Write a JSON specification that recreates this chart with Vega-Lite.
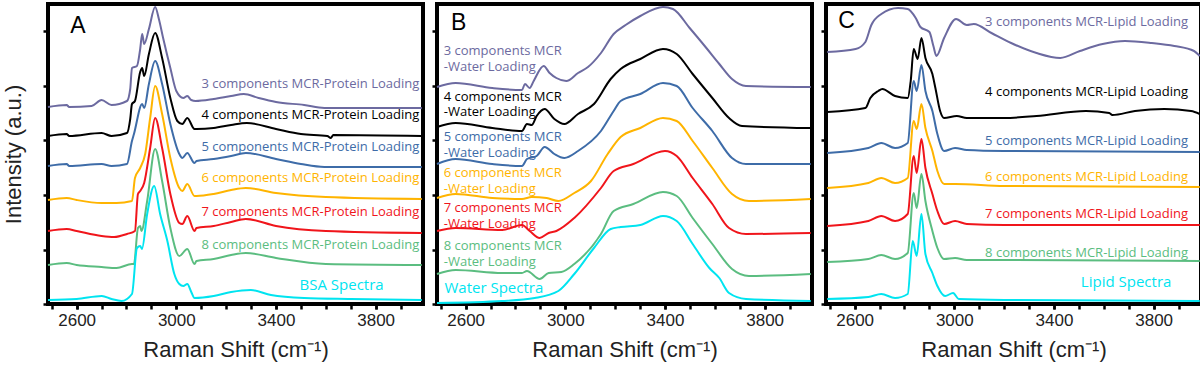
{
  "$schema": "https://vega.github.io/schema/vega-lite/v6.json",
  "background": "white",
  "padding": {"left": 0, "top": 1, "right": 0, "bottom": 0},
  "spacing": 0,
  "config": {
    "view": {"stroke": "black", "strokeWidth": 4},
    "axis": {"domain": false, "grid": false, "tickColor": "black", "tickWidth": 2.5, "tickSize": 5, "labelFont": "Liberation Sans", "labelFontSize": 17, "labelColor": "#222222", "titleFont": "Liberation Sans", "titleFontSize": 22, "titleFontWeight": "normal", "titleColor": "#222222"}
  },
  "datasets": {
    "curves": [
      {"panel":"A","series":"3","x":2485,"y":197},{"panel":"A","series":"3","x":2560,"y":199},{"panel":"A","series":"3","x":2570,"y":197},{"panel":"A","series":"3","x":2660,"y":198},{"panel":"A","series":"3","x":2700,"y":204},{"panel":"A","series":"3","x":2740,"y":199},{"panel":"A","series":"3","x":2802,"y":203},{"panel":"A","series":"3","x":2815,"y":215},{"panel":"A","series":"3","x":2822,"y":236},{"panel":"A","series":"3","x":2842,"y":238},{"panel":"A","series":"3","x":2855,"y":255},{"panel":"A","series":"3","x":2863,"y":270},{"panel":"A","series":"3","x":2871,"y":260},{"panel":"A","series":"3","x":2890,"y":275},{"panel":"A","series":"3","x":2915,"y":297},{"panel":"A","series":"3","x":2930,"y":285},{"panel":"A","series":"3","x":2947,"y":266},{"panel":"A","series":"3","x":2976,"y":236},{"panel":"A","series":"3","x":3000,"y":213},{"panel":"A","series":"3","x":3028,"y":206},{"panel":"A","series":"3","x":3044,"y":208},{"panel":"A","series":"3","x":3060,"y":204},{"panel":"A","series":"3","x":3077,"y":203},{"panel":"A","series":"3","x":3150,"y":205},{"panel":"A","series":"3","x":3220,"y":208},{"panel":"A","series":"3","x":3271,"y":210},{"panel":"A","series":"3","x":3330,"y":206},{"panel":"A","series":"3","x":3400,"y":202},{"panel":"A","series":"3","x":3513,"y":199},{"panel":"A","series":"3","x":3594,"y":196},{"panel":"A","series":"3","x":3700,"y":196},{"panel":"A","series":"3","x":3985,"y":196},
      {"panel":"A","series":"4","x":2485,"y":168},{"panel":"A","series":"4","x":2560,"y":170},{"panel":"A","series":"4","x":2570,"y":168},{"panel":"A","series":"4","x":2700,"y":171},{"panel":"A","series":"4","x":2740,"y":168},{"panel":"A","series":"4","x":2802,"y":171},{"panel":"A","series":"4","x":2815,"y":185},{"panel":"A","series":"4","x":2822,"y":200},{"panel":"A","series":"4","x":2834,"y":203},{"panel":"A","series":"4","x":2855,"y":232},{"panel":"A","series":"4","x":2863,"y":236},{"panel":"A","series":"4","x":2871,"y":228},{"panel":"A","series":"4","x":2890,"y":250},{"panel":"A","series":"4","x":2915,"y":271},{"panel":"A","series":"4","x":2943,"y":246},{"panel":"A","series":"4","x":2976,"y":206},{"panel":"A","series":"4","x":3004,"y":183},{"panel":"A","series":"4","x":3024,"y":180},{"panel":"A","series":"4","x":3044,"y":186},{"panel":"A","series":"4","x":3073,"y":175},{"panel":"A","series":"4","x":3081,"y":175},{"panel":"A","series":"4","x":3150,"y":176},{"panel":"A","series":"4","x":3220,"y":179},{"panel":"A","series":"4","x":3283,"y":181},{"panel":"A","series":"4","x":3400,"y":175},{"panel":"A","series":"4","x":3500,"y":170},{"panel":"A","series":"4","x":3606,"y":168},{"panel":"A","series":"4","x":3620,"y":166},{"panel":"A","series":"4","x":3630,"y":169},{"panel":"A","series":"4","x":3985,"y":168},
      {"panel":"A","series":"5","x":2485,"y":138},{"panel":"A","series":"5","x":2560,"y":140},{"panel":"A","series":"5","x":2570,"y":138},{"panel":"A","series":"5","x":2700,"y":140},{"panel":"A","series":"5","x":2740,"y":138},{"panel":"A","series":"5","x":2802,"y":140},{"panel":"A","series":"5","x":2822,"y":163},{"panel":"A","series":"5","x":2830,"y":170},{"panel":"A","series":"5","x":2863,"y":200},{"panel":"A","series":"5","x":2871,"y":196},{"panel":"A","series":"5","x":2890,"y":220},{"panel":"A","series":"5","x":2915,"y":243},{"panel":"A","series":"5","x":2943,"y":220},{"panel":"A","series":"5","x":2976,"y":180},{"panel":"A","series":"5","x":3012,"y":150},{"panel":"A","series":"5","x":3024,"y":146},{"panel":"A","series":"5","x":3044,"y":151},{"panel":"A","series":"5","x":3073,"y":141},{"panel":"A","series":"5","x":3081,"y":143},{"panel":"A","series":"5","x":3150,"y":145},{"panel":"A","series":"5","x":3220,"y":148},{"panel":"A","series":"5","x":3279,"y":151},{"panel":"A","series":"5","x":3400,"y":145},{"panel":"A","series":"5","x":3500,"y":140},{"panel":"A","series":"5","x":3594,"y":137},{"panel":"A","series":"5","x":3985,"y":137},
      {"panel":"A","series":"6","x":2485,"y":104},{"panel":"A","series":"6","x":2560,"y":106},{"panel":"A","series":"6","x":2600,"y":104},{"panel":"A","series":"6","x":2700,"y":101},{"panel":"A","series":"6","x":2760,"y":101},{"panel":"A","series":"6","x":2822,"y":103},{"panel":"A","series":"6","x":2834,"y":126},{"panel":"A","series":"6","x":2855,"y":136},{"panel":"A","series":"6","x":2875,"y":150},{"panel":"A","series":"6","x":2895,"y":186},{"panel":"A","series":"6","x":2915,"y":218},{"panel":"A","series":"6","x":2943,"y":190},{"panel":"A","series":"6","x":2976,"y":146},{"panel":"A","series":"6","x":3012,"y":116},{"panel":"A","series":"6","x":3024,"y":113},{"panel":"A","series":"6","x":3044,"y":120},{"panel":"A","series":"6","x":3073,"y":108},{"panel":"A","series":"6","x":3081,"y":108},{"panel":"A","series":"6","x":3150,"y":110},{"panel":"A","series":"6","x":3220,"y":114},{"panel":"A","series":"6","x":3279,"y":116},{"panel":"A","series":"6","x":3400,"y":111},{"panel":"A","series":"6","x":3600,"y":107},{"panel":"A","series":"6","x":3985,"y":105},
      {"panel":"A","series":"7","x":2485,"y":73},{"panel":"A","series":"7","x":2560,"y":75},{"panel":"A","series":"7","x":2600,"y":73},{"panel":"A","series":"7","x":2700,"y":68},{"panel":"A","series":"7","x":2750,"y":67},{"panel":"A","series":"7","x":2802,"y":70},{"panel":"A","series":"7","x":2834,"y":73},{"panel":"A","series":"7","x":2846,"y":110},{"panel":"A","series":"7","x":2855,"y":113},{"panel":"A","series":"7","x":2871,"y":121},{"panel":"A","series":"7","x":2895,"y":156},{"panel":"A","series":"7","x":2915,"y":186},{"panel":"A","series":"7","x":2943,"y":156},{"panel":"A","series":"7","x":2976,"y":110},{"panel":"A","series":"7","x":3012,"y":81},{"panel":"A","series":"7","x":3024,"y":80},{"panel":"A","series":"7","x":3044,"y":88},{"panel":"A","series":"7","x":3073,"y":73},{"panel":"A","series":"7","x":3081,"y":76},{"panel":"A","series":"7","x":3150,"y":78},{"panel":"A","series":"7","x":3220,"y":82},{"panel":"A","series":"7","x":3279,"y":85},{"panel":"A","series":"7","x":3400,"y":78},{"panel":"A","series":"7","x":3600,"y":73},{"panel":"A","series":"7","x":3985,"y":71},
      {"panel":"A","series":"8","x":2485,"y":39},{"panel":"A","series":"8","x":2560,"y":41},{"panel":"A","series":"8","x":2600,"y":39},{"panel":"A","series":"8","x":2700,"y":37},{"panel":"A","series":"8","x":2760,"y":36},{"panel":"A","series":"8","x":2822,"y":40},{"panel":"A","series":"8","x":2830,"y":40},{"panel":"A","series":"8","x":2846,"y":76},{"panel":"A","series":"8","x":2855,"y":78},{"panel":"A","series":"8","x":2860,"y":73},{"panel":"A","series":"8","x":2883,"y":103},{"panel":"A","series":"8","x":2915,"y":155},{"panel":"A","series":"8","x":2943,"y":123},{"panel":"A","series":"8","x":2976,"y":76},{"panel":"A","series":"8","x":3012,"y":48},{"panel":"A","series":"8","x":3044,"y":55},{"panel":"A","series":"8","x":3073,"y":40},{"panel":"A","series":"8","x":3081,"y":43},{"panel":"A","series":"8","x":3150,"y":45},{"panel":"A","series":"8","x":3220,"y":49},{"panel":"A","series":"8","x":3279,"y":51},{"panel":"A","series":"8","x":3400,"y":46},{"panel":"A","series":"8","x":3600,"y":40},{"panel":"A","series":"8","x":3985,"y":39},
      {"panel":"A","series":"ref","x":2485,"y":4},{"panel":"A","series":"ref","x":2600,"y":5},{"panel":"A","series":"ref","x":2701,"y":8},{"panel":"A","series":"ref","x":2740,"y":5},{"panel":"A","series":"ref","x":2780,"y":3},{"panel":"A","series":"ref","x":2822,"y":10},{"panel":"A","series":"ref","x":2842,"y":56},{"panel":"A","series":"ref","x":2855,"y":58},{"panel":"A","series":"ref","x":2862,"y":55},{"panel":"A","series":"ref","x":2883,"y":90},{"panel":"A","series":"ref","x":2911,"y":118},{"panel":"A","series":"ref","x":2935,"y":90},{"panel":"A","series":"ref","x":2964,"y":63},{"panel":"A","series":"ref","x":2992,"y":30},{"panel":"A","series":"ref","x":3012,"y":20},{"panel":"A","series":"ref","x":3028,"y":18},{"panel":"A","series":"ref","x":3044,"y":20},{"panel":"A","series":"ref","x":3060,"y":12},{"panel":"A","series":"ref","x":3073,"y":6},{"panel":"A","series":"ref","x":3150,"y":8},{"panel":"A","series":"ref","x":3220,"y":12},{"panel":"A","series":"ref","x":3299,"y":14},{"panel":"A","series":"ref","x":3380,"y":9},{"panel":"A","series":"ref","x":3513,"y":6},{"panel":"A","series":"ref","x":3700,"y":5},{"panel":"A","series":"ref","x":3985,"y":4},

      {"panel":"B","series":"3","x":2485,"y":217},{"panel":"B","series":"3","x":2560,"y":221},{"panel":"B","series":"3","x":2707,"y":216},{"panel":"B","series":"3","x":2826,"y":214},{"panel":"B","series":"3","x":2838,"y":220},{"panel":"B","series":"3","x":2857,"y":216},{"panel":"B","series":"3","x":2873,"y":223},{"panel":"B","series":"3","x":2913,"y":238},{"panel":"B","series":"3","x":2937,"y":231},{"panel":"B","series":"3","x":2964,"y":226},{"panel":"B","series":"3","x":3004,"y":223},{"panel":"B","series":"3","x":3051,"y":231},{"panel":"B","series":"3","x":3091,"y":237},{"panel":"B","series":"3","x":3143,"y":251},{"panel":"B","series":"3","x":3194,"y":270},{"panel":"B","series":"3","x":3242,"y":279},{"panel":"B","series":"3","x":3301,"y":288},{"panel":"B","series":"3","x":3392,"y":297},{"panel":"B","series":"3","x":3432,"y":295},{"panel":"B","series":"3","x":3499,"y":276},{"panel":"B","series":"3","x":3566,"y":256},{"panel":"B","series":"3","x":3618,"y":240},{"panel":"B","series":"3","x":3669,"y":225},{"panel":"B","series":"3","x":3725,"y":218},{"panel":"B","series":"3","x":3985,"y":217},
      {"panel":"B","series":"4","x":2485,"y":177},{"panel":"B","series":"4","x":2560,"y":181},{"panel":"B","series":"4","x":2707,"y":176},{"panel":"B","series":"4","x":2826,"y":173},{"panel":"B","series":"4","x":2846,"y":180},{"panel":"B","series":"4","x":2865,"y":179},{"panel":"B","series":"4","x":2885,"y":188},{"panel":"B","series":"4","x":2917,"y":195},{"panel":"B","series":"4","x":2956,"y":185},{"panel":"B","series":"4","x":2996,"y":180},{"panel":"B","series":"4","x":3051,"y":190},{"panel":"B","series":"4","x":3115,"y":200},{"panel":"B","series":"4","x":3182,"y":225},{"panel":"B","series":"4","x":3222,"y":235},{"panel":"B","series":"4","x":3301,"y":245},{"panel":"B","series":"4","x":3392,"y":255},{"panel":"B","series":"4","x":3447,"y":250},{"panel":"B","series":"4","x":3511,"y":230},{"panel":"B","series":"4","x":3590,"y":206},{"panel":"B","series":"4","x":3657,"y":186},{"panel":"B","series":"4","x":3709,"y":178},{"panel":"B","series":"4","x":3985,"y":176},
      {"panel":"B","series":"5","x":2485,"y":140},{"panel":"B","series":"5","x":2560,"y":145},{"panel":"B","series":"5","x":2707,"y":140},{"panel":"B","series":"5","x":2826,"y":138},{"panel":"B","series":"5","x":2846,"y":145},{"panel":"B","series":"5","x":2885,"y":148},{"panel":"B","series":"5","x":2917,"y":157},{"panel":"B","series":"5","x":2956,"y":150},{"panel":"B","series":"5","x":2996,"y":146},{"panel":"B","series":"5","x":3051,"y":153},{"panel":"B","series":"5","x":3143,"y":173},{"panel":"B","series":"5","x":3194,"y":193},{"panel":"B","series":"5","x":3222,"y":203},{"panel":"B","series":"5","x":3301,"y":210},{"panel":"B","series":"5","x":3392,"y":221},{"panel":"B","series":"5","x":3447,"y":218},{"panel":"B","series":"5","x":3511,"y":196},{"panel":"B","series":"5","x":3590,"y":173},{"panel":"B","series":"5","x":3669,"y":146},{"panel":"B","series":"5","x":3725,"y":140},{"panel":"B","series":"5","x":3985,"y":140},
      {"panel":"B","series":"6","x":2485,"y":106},{"panel":"B","series":"6","x":2560,"y":110},{"panel":"B","series":"6","x":2707,"y":106},{"panel":"B","series":"6","x":2826,"y":105},{"panel":"B","series":"6","x":2865,"y":107},{"panel":"B","series":"6","x":2925,"y":106},{"panel":"B","series":"6","x":2972,"y":103},{"panel":"B","series":"6","x":3036,"y":111},{"panel":"B","series":"6","x":3103,"y":123},{"panel":"B","series":"6","x":3170,"y":150},{"panel":"B","series":"6","x":3222,"y":167},{"panel":"B","series":"6","x":3301,"y":176},{"panel":"B","series":"6","x":3392,"y":186},{"panel":"B","series":"6","x":3447,"y":183},{"panel":"B","series":"6","x":3511,"y":163},{"panel":"B","series":"6","x":3590,"y":136},{"panel":"B","series":"6","x":3669,"y":110},{"panel":"B","series":"6","x":3737,"y":103},{"panel":"B","series":"6","x":3985,"y":105},
      {"panel":"B","series":"7","x":2485,"y":73},{"panel":"B","series":"7","x":2560,"y":76},{"panel":"B","series":"7","x":2747,"y":74},{"panel":"B","series":"7","x":2826,"y":79},{"panel":"B","series":"7","x":2857,"y":73},{"panel":"B","series":"7","x":2897,"y":66},{"panel":"B","series":"7","x":2933,"y":71},{"panel":"B","series":"7","x":2964,"y":73},{"panel":"B","series":"7","x":3036,"y":86},{"panel":"B","series":"7","x":3143,"y":116},{"panel":"B","series":"7","x":3194,"y":133},{"panel":"B","series":"7","x":3273,"y":140},{"panel":"B","series":"7","x":3400,"y":153},{"panel":"B","series":"7","x":3447,"y":148},{"panel":"B","series":"7","x":3511,"y":126},{"panel":"B","series":"7","x":3590,"y":100},{"panel":"B","series":"7","x":3657,"y":76},{"panel":"B","series":"7","x":3725,"y":70},{"panel":"B","series":"7","x":3985,"y":71},
      {"panel":"B","series":"8","x":2485,"y":30},{"panel":"B","series":"8","x":2560,"y":34},{"panel":"B","series":"8","x":2747,"y":31},{"panel":"B","series":"8","x":2826,"y":31},{"panel":"B","series":"8","x":2846,"y":33},{"panel":"B","series":"8","x":2897,"y":25},{"panel":"B","series":"8","x":2933,"y":31},{"panel":"B","series":"8","x":2984,"y":32},{"panel":"B","series":"8","x":3036,"y":40},{"panel":"B","series":"8","x":3143,"y":70},{"panel":"B","series":"8","x":3194,"y":93},{"panel":"B","series":"8","x":3273,"y":100},{"panel":"B","series":"8","x":3392,"y":112},{"panel":"B","series":"8","x":3447,"y":108},{"panel":"B","series":"8","x":3511,"y":86},{"panel":"B","series":"8","x":3590,"y":60},{"panel":"B","series":"8","x":3669,"y":35},{"panel":"B","series":"8","x":3737,"y":28},{"panel":"B","series":"8","x":3985,"y":30},
      {"panel":"B","series":"ref","x":2485,"y":1},{"panel":"B","series":"ref","x":2747,"y":3},{"panel":"B","series":"ref","x":2877,"y":6},{"panel":"B","series":"ref","x":2972,"y":13},{"panel":"B","series":"ref","x":3036,"y":30},{"panel":"B","series":"ref","x":3115,"y":56},{"panel":"B","series":"ref","x":3182,"y":75},{"panel":"B","series":"ref","x":3222,"y":77},{"panel":"B","series":"ref","x":3301,"y":79},{"panel":"B","series":"ref","x":3392,"y":88},{"panel":"B","series":"ref","x":3447,"y":83},{"panel":"B","series":"ref","x":3511,"y":60},{"panel":"B","series":"ref","x":3578,"y":36},{"panel":"B","series":"ref","x":3618,"y":26},{"panel":"B","series":"ref","x":3657,"y":11},{"panel":"B","series":"ref","x":3725,"y":5},{"panel":"B","series":"ref","x":3985,"y":3},

      {"panel":"C","series":"3","x":2490,"y":252},{"panel":"C","series":"3","x":2604,"y":255},{"panel":"C","series":"3","x":2643,"y":262},{"panel":"C","series":"3","x":2667,"y":279},{"panel":"C","series":"3","x":2707,"y":290},{"panel":"C","series":"3","x":2774,"y":296},{"panel":"C","series":"3","x":2813,"y":295},{"panel":"C","series":"3","x":2845,"y":286},{"panel":"C","series":"3","x":2864,"y":277},{"panel":"C","series":"3","x":2900,"y":272},{"panel":"C","series":"3","x":2916,"y":258},{"panel":"C","series":"3","x":2928,"y":248},{"panel":"C","series":"3","x":2959,"y":266},{"panel":"C","series":"3","x":3007,"y":285},{"panel":"C","series":"3","x":3050,"y":279},{"panel":"C","series":"3","x":3078,"y":280},{"panel":"C","series":"3","x":3149,"y":271},{"panel":"C","series":"3","x":3228,"y":261},{"panel":"C","series":"3","x":3330,"y":251},{"panel":"C","series":"3","x":3425,"y":246},{"panel":"C","series":"3","x":3504,"y":253},{"panel":"C","series":"3","x":3595,"y":260},{"panel":"C","series":"3","x":3685,"y":263},{"panel":"C","series":"3","x":3792,"y":261},{"panel":"C","series":"3","x":3883,"y":258},{"panel":"C","series":"3","x":3962,"y":253},{"panel":"C","series":"3","x":3985,"y":248},
      {"panel":"C","series":"4","x":2490,"y":192},{"panel":"C","series":"4","x":2643,"y":196},{"panel":"C","series":"4","x":2663,"y":206},{"panel":"C","series":"4","x":2695,"y":213},{"panel":"C","series":"4","x":2711,"y":215},{"panel":"C","series":"4","x":2762,"y":208},{"panel":"C","series":"4","x":2813,"y":206},{"panel":"C","series":"4","x":2825,"y":223},{"panel":"C","series":"4","x":2837,"y":255},{"panel":"C","series":"4","x":2853,"y":245},{"panel":"C","series":"4","x":2868,"y":266},{"panel":"C","series":"4","x":2884,"y":246},{"panel":"C","series":"4","x":2912,"y":230},{"panel":"C","series":"4","x":2924,"y":216},{"panel":"C","series":"4","x":2943,"y":193},{"panel":"C","series":"4","x":2959,"y":186},{"panel":"C","series":"4","x":3010,"y":188},{"panel":"C","series":"4","x":3050,"y":186},{"panel":"C","series":"4","x":3200,"y":186},{"panel":"C","series":"4","x":3330,"y":188},{"panel":"C","series":"4","x":3528,"y":193},{"panel":"C","series":"4","x":3622,"y":191},{"panel":"C","series":"4","x":3634,"y":189},{"panel":"C","series":"4","x":3725,"y":193},{"panel":"C","series":"4","x":3843,"y":195},{"panel":"C","series":"4","x":3950,"y":193},{"panel":"C","series":"4","x":3985,"y":190},
      {"panel":"C","series":"5","x":2490,"y":151},{"panel":"C","series":"5","x":2655,"y":156},{"panel":"C","series":"5","x":2707,"y":161},{"panel":"C","series":"5","x":2762,"y":156},{"panel":"C","series":"5","x":2813,"y":161},{"panel":"C","series":"5","x":2837,"y":223},{"panel":"C","series":"5","x":2849,"y":213},{"panel":"C","series":"5","x":2868,"y":239},{"panel":"C","series":"5","x":2884,"y":213},{"panel":"C","series":"5","x":2912,"y":193},{"panel":"C","series":"5","x":2932,"y":170},{"panel":"C","series":"5","x":2959,"y":153},{"panel":"C","series":"5","x":3003,"y":156},{"panel":"C","series":"5","x":3050,"y":154},{"panel":"C","series":"5","x":3200,"y":153},{"panel":"C","series":"5","x":3985,"y":152},
      {"panel":"C","series":"6","x":2490,"y":116},{"panel":"C","series":"6","x":2655,"y":121},{"panel":"C","series":"6","x":2707,"y":126},{"panel":"C","series":"6","x":2762,"y":121},{"panel":"C","series":"6","x":2813,"y":126},{"panel":"C","series":"6","x":2837,"y":183},{"panel":"C","series":"6","x":2849,"y":175},{"panel":"C","series":"6","x":2868,"y":200},{"panel":"C","series":"6","x":2884,"y":176},{"panel":"C","series":"6","x":2912,"y":153},{"panel":"C","series":"6","x":2932,"y":133},{"panel":"C","series":"6","x":2959,"y":120},{"panel":"C","series":"6","x":3003,"y":120},{"panel":"C","series":"6","x":3200,"y":118},{"panel":"C","series":"6","x":3985,"y":117},
      {"panel":"C","series":"7","x":2490,"y":78},{"panel":"C","series":"7","x":2655,"y":83},{"panel":"C","series":"7","x":2707,"y":88},{"panel":"C","series":"7","x":2762,"y":83},{"panel":"C","series":"7","x":2813,"y":90},{"panel":"C","series":"7","x":2837,"y":148},{"panel":"C","series":"7","x":2849,"y":131},{"panel":"C","series":"7","x":2868,"y":165},{"panel":"C","series":"7","x":2884,"y":136},{"panel":"C","series":"7","x":2912,"y":110},{"panel":"C","series":"7","x":2932,"y":93},{"panel":"C","series":"7","x":2959,"y":80},{"panel":"C","series":"7","x":3003,"y":83},{"panel":"C","series":"7","x":3050,"y":80},{"panel":"C","series":"7","x":3200,"y":79},{"panel":"C","series":"7","x":3985,"y":79},
      {"panel":"C","series":"8","x":2490,"y":42},{"panel":"C","series":"8","x":2655,"y":45},{"panel":"C","series":"8","x":2707,"y":49},{"panel":"C","series":"8","x":2762,"y":45},{"panel":"C","series":"8","x":2813,"y":51},{"panel":"C","series":"8","x":2837,"y":111},{"panel":"C","series":"8","x":2849,"y":96},{"panel":"C","series":"8","x":2868,"y":130},{"panel":"C","series":"8","x":2884,"y":103},{"panel":"C","series":"8","x":2912,"y":73},{"panel":"C","series":"8","x":2932,"y":56},{"panel":"C","series":"8","x":2959,"y":45},{"panel":"C","series":"8","x":3003,"y":46},{"panel":"C","series":"8","x":3050,"y":44},{"panel":"C","series":"8","x":3200,"y":44},{"panel":"C","series":"8","x":3985,"y":43},
      {"panel":"C","series":"ref","x":2490,"y":5},{"panel":"C","series":"ref","x":2655,"y":7},{"panel":"C","series":"ref","x":2707,"y":10},{"panel":"C","series":"ref","x":2762,"y":6},{"panel":"C","series":"ref","x":2813,"y":10},{"panel":"C","series":"ref","x":2833,"y":63},{"panel":"C","series":"ref","x":2849,"y":48},{"panel":"C","series":"ref","x":2868,"y":90},{"panel":"C","series":"ref","x":2884,"y":50},{"panel":"C","series":"ref","x":2912,"y":31},{"panel":"C","series":"ref","x":2932,"y":18},{"panel":"C","series":"ref","x":2963,"y":8},{"panel":"C","series":"ref","x":2995,"y":11},{"panel":"C","series":"ref","x":3018,"y":5},{"panel":"C","series":"ref","x":3200,"y":4},{"panel":"C","series":"ref","x":3985,"y":3}
    ],
    "labels": [
      {"panel":"A","series":"3","text":"3 components MCR-Protein Loading","x":3975,"y":220},
      {"panel":"A","series":"4","text":"4 components MCR-Protein Loading","x":3975,"y":189},
      {"panel":"A","series":"5","text":"5 components MCR-Protein Loading","x":3975,"y":157},
      {"panel":"A","series":"6","text":"6 components MCR-Protein Loading","x":3975,"y":126},
      {"panel":"A","series":"7","text":"7 components MCR-Protein Loading","x":3975,"y":92},
      {"panel":"A","series":"8","text":"8 components MCR-Protein Loading","x":3975,"y":59},
      {"panel":"A","series":"ref","text":"BSA Spectra","x":3832,"y":19},
      {"panel":"B","series":"3","text":"3 components MCR","x":2512,"y":253},
      {"panel":"B","series":"3","text":"-Water Loading","x":2512,"y":237},
      {"panel":"B","series":"4","text":"4 components MCR","x":2512,"y":207},
      {"panel":"B","series":"4","text":"-Water Loading","x":2512,"y":192},
      {"panel":"B","series":"5","text":"5 components MCR","x":2512,"y":167},
      {"panel":"B","series":"5","text":"-Water Loading","x":2512,"y":151},
      {"panel":"B","series":"6","text":"6 components MCR","x":2512,"y":131},
      {"panel":"B","series":"6","text":"-Water Loading","x":2512,"y":115},
      {"panel":"B","series":"7","text":"7 components MCR","x":2512,"y":96},
      {"panel":"B","series":"7","text":"-Water Loading","x":2512,"y":80},
      {"panel":"B","series":"8","text":"8 components MCR","x":2512,"y":58},
      {"panel":"B","series":"8","text":"-Water Loading","x":2512,"y":42},
      {"panel":"B","series":"ref","text":"Water Spectra","x":2515,"y":16},
      {"panel":"C","series":"3","text":"3 components MCR-Lipid Loading","x":3938,"y":282},
      {"panel":"C","series":"4","text":"4 components MCR-Lipid Loading","x":3938,"y":212},
      {"panel":"C","series":"5","text":"5 components MCR-Lipid Loading","x":3938,"y":163},
      {"panel":"C","series":"6","text":"6 components MCR-Lipid Loading","x":3938,"y":127},
      {"panel":"C","series":"7","text":"7 components MCR-Lipid Loading","x":3938,"y":90},
      {"panel":"C","series":"8","text":"8 components MCR-Lipid Loading","x":3938,"y":51},
      {"panel":"C","series":"ref","text":"Lipid Spectra","x":3871,"y":22}
    ],
    "letters": [
      {"panel":"A","text":"A","x":2605,"y":278},
      {"panel":"B","text":"B","x":2572,"y":281},
      {"panel":"C","text":"C","x":2568,"y":283}
    ]
  },
  "hconcat": [
    {
      "width": 375, "height": 300,
      "resolve": {"axis": {"x": "independent"}},
      "layer": [
        {"data": {"name": "curves"}, "transform": [{"filter": "datum.panel == 'A'"}],
         "mark": {"type": "line", "strokeWidth": 2, "interpolate": "monotone"},
         "encoding": {
           "x": {"field": "x", "type": "quantitative", "scale": {"domain": [2485, 3990], "nice": false, "zero": false},
                 "axis": {"orient": "bottom", "values": [2600, 3000, 3400, 3800], "format": "d", "labelFlush": false, "labelPadding": 3, "title": "Raman Shift (cm⁻¹)", "titlePadding": 11}},
           "y": {"field": "y", "type": "quantitative", "scale": {"domain": [0, 300], "nice": false, "zero": false},
                 "axis": {"values": [0,27.3,54.5,81.8,109.1,136.4,163.6,190.9,218.2,245.5,272.7,300], "labels": false, "title": "Intensity (a.u.)", "titlePadding": 16}},
           "color": {"field": "series", "type": "nominal", "scale": {"domain": ["3","4","5","6","7","8","ref"], "range": ["#6C6AA0","#000000","#3E6CA8","#FFB400","#F0151B","#5BBD80","#00E4F0"]}, "legend": null}
         }},
        {"data": {"name": "labels"}, "transform": [{"filter": "datum.panel == 'A'"}],
         "mark": {"type": "text", "align": "right", "baseline": "middle", "font": "Open Sans", "fontSize": 13},
         "encoding": {
           "x": {"field": "x", "type": "quantitative", "scale": {"domain": [2485, 3990], "nice": false, "zero": false}, "axis": {"orient": "bottom", "values": [2500,2600,2700,2800,2900,3000,3100,3200,3300,3400,3500,3600,3700,3800,3900], "labels": false, "title": null}},
           "y": {"field": "y", "type": "quantitative", "scale": {"domain": [0, 300], "nice": false, "zero": false}},
           "text": {"field": "text"},
           "size": {"condition": {"test": "datum.series == 'ref'", "value": 15}, "value": 13},
           "color": {"field": "series", "type": "nominal", "scale": {"domain": ["3","4","5","6","7","8","ref"], "range": ["#6C6AA0","#000000","#3E6CA8","#FFB400","#F0151B","#5BBD80","#00E4F0"]}, "legend": null}
         }},
        {"data": {"name": "letters"}, "transform": [{"filter": "datum.panel == 'A'"}],
         "mark": {"type": "text", "align": "center", "baseline": "middle", "font": "Liberation Sans", "fontSize": 23, "color": "black"},
         "encoding": {
           "x": {"field": "x", "type": "quantitative", "scale": {"domain": [2485, 3990], "nice": false, "zero": false}, "axis": null},
           "y": {"field": "y", "type": "quantitative", "scale": {"domain": [0, 300], "nice": false, "zero": false}},
           "text": {"field": "text"}
         }}
      ]
    },
    {
      "width": 375, "height": 300,
      "resolve": {"axis": {"x": "independent"}},
      "layer": [
        {"data": {"name": "curves"}, "transform": [{"filter": "datum.panel == 'B'"}],
         "mark": {"type": "line", "strokeWidth": 2, "interpolate": "monotone"},
         "encoding": {
           "x": {"field": "x", "type": "quantitative", "scale": {"domain": [2485, 3990], "nice": false, "zero": false},
                 "axis": {"orient": "bottom", "values": [2600, 3000, 3400, 3800], "format": "d", "labelFlush": false, "labelPadding": 3, "title": "Raman Shift (cm⁻¹)", "titlePadding": 11}},
           "y": {"field": "y", "type": "quantitative", "scale": {"domain": [0, 300], "nice": false, "zero": false},
                 "axis": {"values": [0,27.3,54.5,81.8,109.1,136.4,163.6,190.9,218.2,245.5,272.7,300], "labels": false, "title": null}},
           "color": {"field": "series", "type": "nominal", "scale": {"domain": ["3","4","5","6","7","8","ref"], "range": ["#6C6AA0","#000000","#3E6CA8","#FFB400","#F0151B","#5BBD80","#00E4F0"]}, "legend": null}
         }},
        {"data": {"name": "labels"}, "transform": [{"filter": "datum.panel == 'B'"}],
         "mark": {"type": "text", "align": "left", "baseline": "middle", "font": "Open Sans", "fontSize": 13},
         "encoding": {
           "x": {"field": "x", "type": "quantitative", "scale": {"domain": [2485, 3990], "nice": false, "zero": false}, "axis": {"orient": "bottom", "values": [2500,2600,2700,2800,2900,3000,3100,3200,3300,3400,3500,3600,3700,3800,3900], "labels": false, "title": null}},
           "y": {"field": "y", "type": "quantitative", "scale": {"domain": [0, 300], "nice": false, "zero": false}},
           "text": {"field": "text"},
           "size": {"condition": {"test": "datum.series == 'ref'", "value": 15}, "value": 13},
           "color": {"field": "series", "type": "nominal", "scale": {"domain": ["3","4","5","6","7","8","ref"], "range": ["#6C6AA0","#000000","#3E6CA8","#FFB400","#F0151B","#5BBD80","#00E4F0"]}, "legend": null}
         }},
        {"data": {"name": "letters"}, "transform": [{"filter": "datum.panel == 'B'"}],
         "mark": {"type": "text", "align": "center", "baseline": "middle", "font": "Liberation Sans", "fontSize": 23, "color": "black"},
         "encoding": {
           "x": {"field": "x", "type": "quantitative", "scale": {"domain": [2485, 3990], "nice": false, "zero": false}, "axis": null},
           "y": {"field": "y", "type": "quantitative", "scale": {"domain": [0, 300], "nice": false, "zero": false}},
           "text": {"field": "text"}
         }}
      ]
    },
    {
      "width": 375, "height": 300,
      "resolve": {"axis": {"x": "independent"}},
      "layer": [
        {"data": {"name": "curves"}, "transform": [{"filter": "datum.panel == 'C'"}],
         "mark": {"type": "line", "strokeWidth": 2, "interpolate": "monotone"},
         "encoding": {
           "x": {"field": "x", "type": "quantitative", "scale": {"domain": [2485, 3990], "nice": false, "zero": false},
                 "axis": {"orient": "bottom", "values": [2600, 3000, 3400, 3800], "format": "d", "labelFlush": false, "labelPadding": 3, "title": "Raman Shift (cm⁻¹)", "titlePadding": 11}},
           "y": {"field": "y", "type": "quantitative", "scale": {"domain": [0, 300], "nice": false, "zero": false},
                 "axis": {"values": [0,27.3,54.5,81.8,109.1,136.4,163.6,190.9,218.2,245.5,272.7,300], "labels": false, "title": null}},
           "color": {"field": "series", "type": "nominal", "scale": {"domain": ["3","4","5","6","7","8","ref"], "range": ["#6C6AA0","#000000","#3E6CA8","#FFB400","#F0151B","#5BBD80","#00E4F0"]}, "legend": null}
         }},
        {"data": {"name": "labels"}, "transform": [{"filter": "datum.panel == 'C'"}],
         "mark": {"type": "text", "align": "right", "baseline": "middle", "font": "Open Sans", "fontSize": 13},
         "encoding": {
           "x": {"field": "x", "type": "quantitative", "scale": {"domain": [2485, 3990], "nice": false, "zero": false}, "axis": {"orient": "bottom", "values": [2500,2600,2700,2800,2900,3000,3100,3200,3300,3400,3500,3600,3700,3800,3900], "labels": false, "title": null}},
           "y": {"field": "y", "type": "quantitative", "scale": {"domain": [0, 300], "nice": false, "zero": false}},
           "text": {"field": "text"},
           "size": {"condition": {"test": "datum.series == 'ref'", "value": 15}, "value": 13},
           "color": {"field": "series", "type": "nominal", "scale": {"domain": ["3","4","5","6","7","8","ref"], "range": ["#6C6AA0","#000000","#3E6CA8","#FFB400","#F0151B","#5BBD80","#00E4F0"]}, "legend": null}
         }},
        {"data": {"name": "letters"}, "transform": [{"filter": "datum.panel == 'C'"}],
         "mark": {"type": "text", "align": "center", "baseline": "middle", "font": "Liberation Sans", "fontSize": 23, "color": "black"},
         "encoding": {
           "x": {"field": "x", "type": "quantitative", "scale": {"domain": [2485, 3990], "nice": false, "zero": false}, "axis": null},
           "y": {"field": "y", "type": "quantitative", "scale": {"domain": [0, 300], "nice": false, "zero": false}},
           "text": {"field": "text"}
         }}
      ]
    }
  ]
}
